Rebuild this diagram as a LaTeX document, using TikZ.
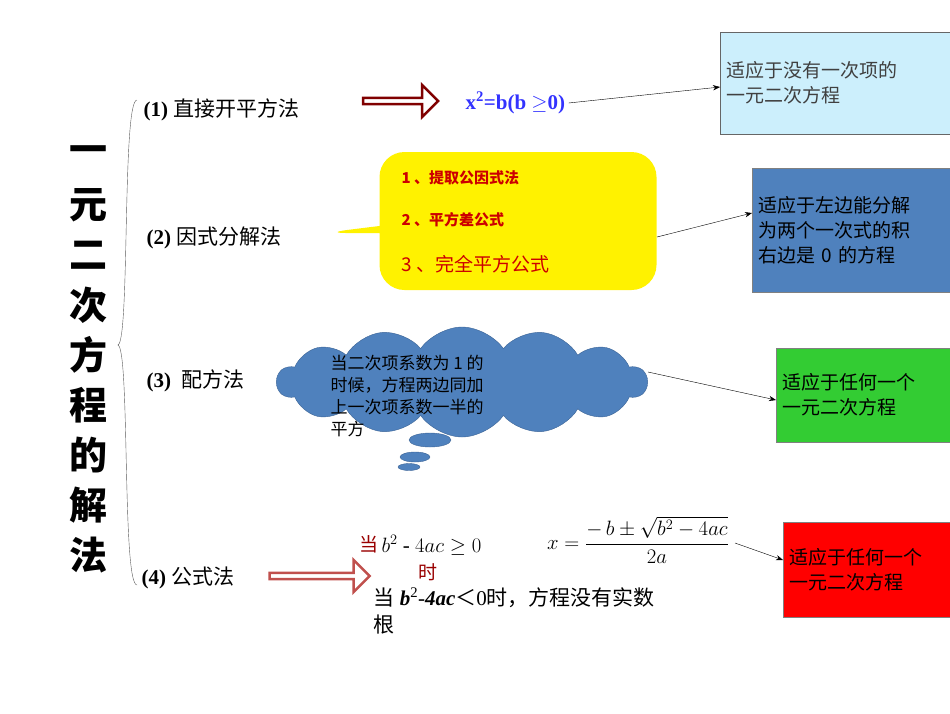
\documentclass[tikz,border=0pt]{standalone}
\usepackage{fontspec}
\setmainfont{Liberation Serif}
\newfontfamily\cjk{Noto Sans CJK SC}
\usetikzlibrary{shapes.symbols,shapes.callouts,shapes.arrows,arrows.meta}
\begin{document}
\begin{tikzpicture}[x=1pt,y=-1pt,
  lab/.style={anchor=west,font=\fontsize{21}{24}\selectfont},
  box/.style={anchor=north west,align=left,inner sep=6pt,font=\cjk\fontsize{19}{25}\selectfont,text width=260pt},
  conn/.style={-{Stealth[length=7pt]},black},
  hollow/.style={single arrow,draw,line width=2.5pt,fill=white,minimum height=75pt,minimum width=32pt,single arrow head extend=5pt,inner sep=0pt}]
\useasboundingbox (0,0) rectangle (950,713);
\clip (0,0) rectangle (950,713);
% title
\foreach \c [count=\i from 0] in {一,元,二,次,方,程,的,解,法}
  \node[font=\cjk\bfseries\fontsize{38}{38}\selectfont] (t\i) at (88,155+50*\i) {\c};
\draw[gray!70!black] (137,100) .. controls (122,100) and (130,340) .. (118,345) .. controls (130,350) and (122,585) .. (137,585);
% labels
\node[lab] (l1) at (140,110) {\textbf{(1)} {\cjk 直接开平方法}};
\node[lab] (l2) at (143,238) {\textbf{(2)} {\cjk 因式分解法}};
\node[lab] (l3) at (143,381) {\textbf{(3)}\ \ {\cjk 配方法}};
\node[lab] (l4) at (138,578) {\textbf{(4)} {\cjk 公式法}};
% row 1
\node[hollow,draw=red!50!black,minimum height=75pt] (a1) at (399,101) {};
\node[anchor=west,text=blue!80!white,font=\bfseries\fontsize{21}{24}\selectfont] (f1) at (462,103) {x\textsuperscript{2}=b(b $\geq$0)};
\node[box,fill=cyan!20,draw=black!60,minimum width=230pt,minimum height=102pt,text=black!75] (b1) at (720,32) {适应于没有一次项的\\一元二次方程};
\draw[conn] (f1.east) -- (b1.west |- 0,87);
% row 2
\node[rectangle callout,rounded corners=25pt,draw=none,fill=yellow,minimum width=277pt,minimum height=138pt,callout absolute pointer={(323,233)}] (y) at (518,221) {};
\node[anchor=west,text=red!80!black,font=\cjk\bfseries\fontsize{15}{18}\selectfont] (y1) at (398,178) {1 、提取公因式法};
\node[anchor=west,text=red!80!black,font=\cjk\bfseries\fontsize{15}{18}\selectfont] (y2) at (398,220) {2 、平方差公式};
\node[anchor=west,text=red!80!black,font=\cjk\fontsize{19}{22}\selectfont] (y3) at (398,264) {3 、完全平方公式};
\node[box,fill={rgb,255:red,79;green,129;blue,189},draw=black!50,minimum width=200pt,minimum height=124pt] (b2) at (752,168) {适应于左边能分解\\为两个一次式的积\\右边是 0 的方程};
\draw[conn] (657,237) -- (b2.west |- 0,213);
% row 3
\node[cloud,cloud puffs=14,cloud puff arc=110,aspect=3.3,fill={rgb,255:red,79;green,129;blue,189},draw={rgb,255:red,60;green,100;blue,150},minimum width=370pt,minimum height=110pt,inner sep=0pt] (c) at (462,382) {};
\foreach \x/\y/\w/\h in {430/440/42/14,415/457/30/10,409/467/22/7}
  \draw[fill={rgb,255:red,79;green,129;blue,189},draw={rgb,255:red,60;green,100;blue,150}] (\x,\y) ellipse ({\w/2} and {\h/2});
\node[anchor=north west,align=left,font=\cjk\fontsize{17}{22}\selectfont] (ct) at (327,352) {当二次项系数为 1 的\\时候，方程两边同加\\上一次项系数一半的\\平方};
\node[box,fill={rgb,255:red,51;green,204;blue,51},draw=black!50,minimum width=176pt,minimum height=94pt] (b3) at (776,348) {适应于任何一个\\一元二次方程};
\draw[conn] (648,372) -- (b3.west |- 0,400);
% row 4
\node[hollow,draw={rgb,255:red,192;green,80;blue,77},minimum height=100pt] (a4) at (318,576) {};
\node[anchor=west,text=red!60!black,font=\cjk\fontsize{19}{22}\selectfont] (w1) at (356,544) {当};
\node[anchor=west,font=\fontsize{21}{24}\selectfont] (q1) at (378,545) {$b^2$ - $4ac \geq 0$};
\node[text=red!60!black,font=\cjk\fontsize{19}{22}\selectfont] (w2) at (428,572) {时};
\node[font=\fontsize{21}{24}\selectfont] (q2) at (638,540) {$\displaystyle x=\frac{-\,b\pm\sqrt{b^2-4ac}}{2a}$};
\node[anchor=north west,align=left,font=\fontsize{21}{27}\selectfont] (q3) at (370,584) {{\cjk 当} \textit{\textbf{b}}\textsuperscript{2}-\textit{\textbf{4ac}}{\cjk ＜}0{\cjk 时，方程没有实数}\\{\cjk 根}};
\node[box,fill=red,draw=black!50,minimum width=170pt,minimum height=95pt] (b4) at (783,522) {适应于任何一个\\一元二次方程};
\draw[conn] (735,543) -- (b4.west |- 0,560);
\end{tikzpicture}
\end{document}
